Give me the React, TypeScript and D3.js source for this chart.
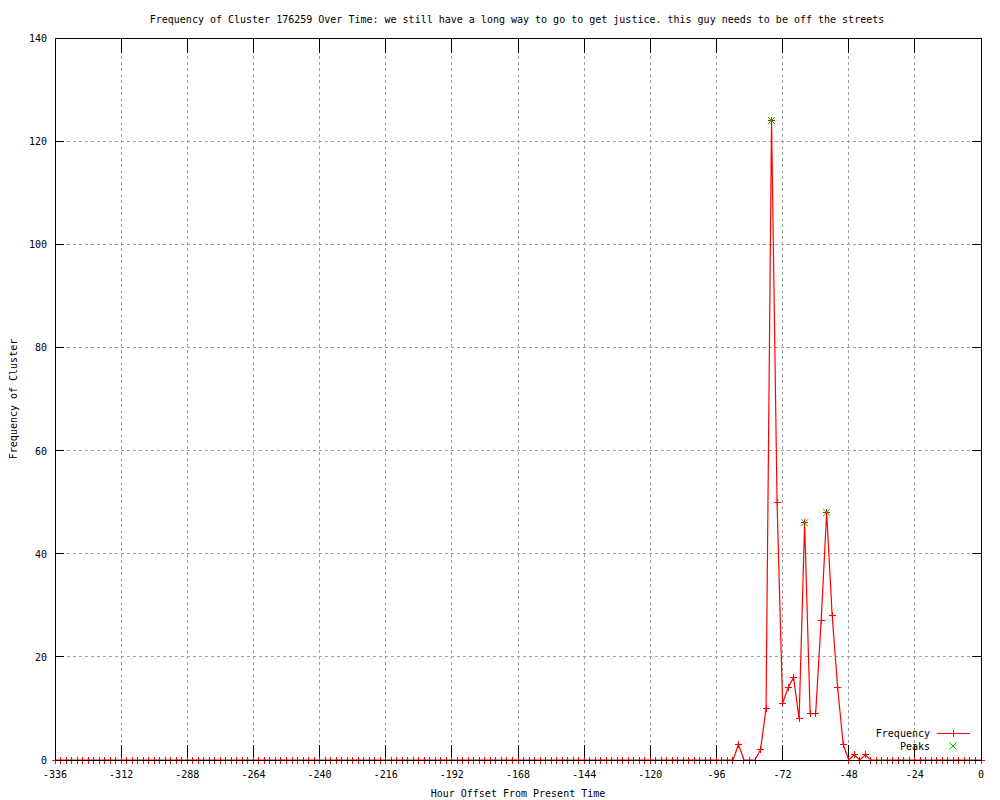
import React from 'react';
import * as d3 from 'd3';

//canvas
const width = 1000;
const height = 800;

//plot box
const left = 55;
const right = 981;
const top = 38;
const bottom = 760;

const titleText =
  'Frequency of Cluster 176259 Over Time: we still have a long way to go to get justice. this guy needs to be off the streets';
const xLabel = 'Hour Offset From Present Time';
const yLabel = 'Frequency of Cluster';

// data: one value every 2 hours, from -336 up to 0
const startHour = -336;
const hourStep = 2;
const frequency = [
  0, 0, 0, 0, 0, 0, 0, 0, 0, 0, 0, 0, 0, 0, 0, 0, 0, 0, 0, 0,
  0, 0, 0, 0, 0, 0, 0, 0, 0, 0, 0, 0, 0, 0, 0, 0, 0, 0, 0, 0,
  0, 0, 0, 0, 0, 0, 0, 0, 0, 0, 0, 0, 0, 0, 0, 0, 0, 0, 0, 0,
  0, 0, 0, 0, 0, 0, 0, 0, 0, 0, 0, 0, 0, 0, 0, 0, 0, 0, 0, 0,
  0, 0, 0, 0, 0, 0, 0, 0, 0, 0, 0, 0, 0, 0, 0, 0, 0, 0, 0, 0,
  0, 0, 0, 0, 0, 0, 0, 0, 0, 0, 0, 0, 0, 0, 0, 0, 0, 0, 0, 0,
  0, 0, 0, 0,
  // -88 .. -42
  3, 0, 0, 0, 2, 10, 124, 50, 11, 14, 16, 8, 46, 9, 9, 27, 48, 28, 14, 3, 0, 1, 0, 1,
  // -40 .. 0
  0, 0, 0, 0, 0, 0, 0, 0, 0, 0, 0, 0, 0, 0, 0, 0, 0, 0, 0, 0, 0,
];

const peakHours = [-76, -64, -56];
const peakValues = [124, 46, 48];

const xTicks = [-336, -312, -288, -264, -240, -216, -192, -168, -144, -120, -96, -72, -48, -24, 0];
const yTicks = [0, 20, 40, 60, 80, 100, 120, 140];

const freqColor = '#ff0000';
const peakColor = '#00c800';
const gridColor = '#a0a0a0';
const font = '"DejaVu Sans Mono", monospace';
const fontSize = 10;

const x = d3.scaleLinear().domain([-336, 0]).range([left, right]);
const y = d3.scaleLinear().domain([0, 140]).range([bottom, top]);

const points = frequency.map((v, i) => [startHour + i * hourStep, v] as [number, number]);

const line = d3
  .line<[number, number]>()
  .x((d) => x(d[0]))
  .y((d) => y(d[1]));

const plus = (cx: number, cy: number, s = 3.5) =>
  `M${cx - s},${cy}H${cx + s}M${cx},${cy - s}V${cy + s}`;
const cross = (cx: number, cy: number, s = 3.5) =>
  `M${cx - s},${cy - s}L${cx + s},${cy + s}M${cx - s},${cy + s}L${cx + s},${cy - s}`;

const App = () => (
  <svg
    width={width}
    height={height}
    style={{ position: 'absolute', left: 0, top: 0, background: '#fff' }}
    fontFamily={font}
    fontSize={fontSize}
  >
    <rect width={width} height={height} fill="#fff" />

    {/* grid */}
    <g stroke={gridColor} strokeWidth={1} strokeDasharray="3,3" shapeRendering="crispEdges">
      {xTicks
        .filter((t) => t !== -336 && t !== 0)
        .map((t) => (
          <line key={'gx' + t} x1={x(t)} x2={x(t)} y1={top} y2={bottom} />
        ))}
      {yTicks
        .filter((t) => t !== 0 && t !== 140)
        .map((t) => (
          <line key={'gy' + t} x1={left} x2={right} y1={y(t)} y2={y(t)} />
        ))}
    </g>

    {/* ticks, mirrored on all sides */}
    <g stroke="#000" strokeWidth={1} shapeRendering="crispEdges">
      {xTicks.map((t) => (
        <g key={'tx' + t}>
          <line x1={x(t)} x2={x(t)} y1={bottom} y2={bottom - 15} />
          <line x1={x(t)} x2={x(t)} y1={top} y2={top + 15} />
        </g>
      ))}
      {yTicks.map((t) => (
        <g key={'ty' + t}>
          <line x1={left} x2={left + 9} y1={y(t)} y2={y(t)} />
          <line x1={right} x2={right - 9} y1={y(t)} y2={y(t)} />
        </g>
      ))}
    </g>

    {/* frequency series */}
    <path d={line(points) || ''} fill="none" stroke={freqColor} strokeWidth={1.2} />
    <g stroke={freqColor} strokeWidth={1} shapeRendering="crispEdges">
      {points.map((p) => (
        <path key={'p' + p[0]} d={plus(x(p[0]), y(p[1]))} />
      ))}
    </g>

    {/* border */}
    <rect
      x={left}
      y={top}
      width={right - left}
      height={bottom - top}
      fill="none"
      stroke="#000"
      strokeWidth={1}
      shapeRendering="crispEdges"
    />

    {/* peaks */}
    <g stroke={peakColor} strokeWidth={1}>
      {peakHours.map((h, i) => (
        <path key={'pk' + h} d={cross(x(h), y(peakValues[i]))} />
      ))}
    </g>

    {/* tick labels */}
    <g fill="#000">
      {xTicks.map((t) => (
        <text key={'lx' + t} x={x(t)} y={778} textAnchor="middle">
          {t}
        </text>
      ))}
      {yTicks.map((t) => (
        <text key={'ly' + t} x={47} y={y(t) + 4} textAnchor="end">
          {t}
        </text>
      ))}
    </g>

    {/* titles */}
    <text x={(left + right) / 2 - 1} y={23} textAnchor="middle">
      {titleText}
    </text>
    <text x={(left + right) / 2} y={797} textAnchor="middle">
      {xLabel}
    </text>
    <text transform={`translate(17,${(top + bottom) / 2}) rotate(-90)`} textAnchor="middle">
      {yLabel}
    </text>

    {/* legend */}
    <g>
      <text x={930} y={737} textAnchor="end">
        Frequency
      </text>
      <line x1={937} x2={970} y1={733.5} y2={733.5} stroke={freqColor} />
      <line x1={953.5} x2={953.5} y1={730} y2={737} stroke={freqColor} />
      <text x={930} y={750} textAnchor="end">
        Peaks
      </text>
      <path d={cross(953, 746)} stroke={peakColor} />
    </g>
  </svg>
);

export default App;
